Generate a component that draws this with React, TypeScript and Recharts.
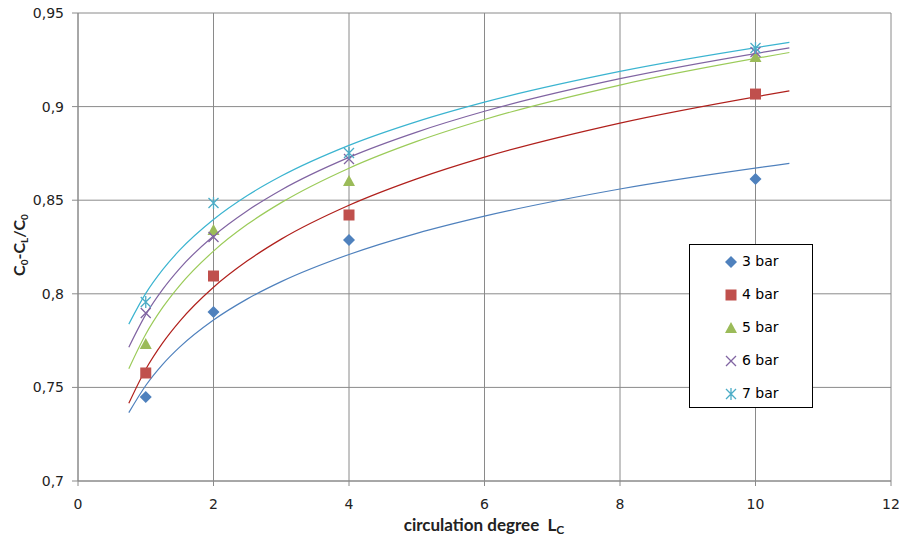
import React from "react"
import { ComposedChart, Line, Scatter, XAxis, YAxis, CartesianGrid } from "recharts"

// measured points (circulation degree Lc vs C0-CL/C0)
const degrees = [1, 2, 4, 10]
const bar3 = [0.7449, 0.7903, 0.8287, 0.8613]
const bar4 = [0.7577, 0.8095, 0.8421, 0.9067]
const bar5 = [0.7732, 0.8341, 0.8603, 0.9265]
const bar6 = [0.7897, 0.8303, 0.872, 0.9292]
const bar7 = [0.7956, 0.8485, 0.8752, 0.9313]

// trend curves
const trendX = [0.75, 1, 1.25, 1.5, 2, 2.5, 3, 4, 5, 6, 8, 10.5]
const trend3 = [0.7365, 0.751, 0.7623, 0.7715, 0.786, 0.7973, 0.8065, 0.821, 0.8323, 0.8415, 0.856, 0.8697]
const trend4 = [0.7415, 0.7597, 0.7738, 0.7853, 0.8035, 0.8176, 0.8292, 0.8473, 0.8614, 0.873, 0.8912, 0.9084]
const trend5 = [0.76, 0.7784, 0.7927, 0.8044, 0.8228, 0.8371, 0.8487, 0.8671, 0.8814, 0.8931, 0.9115, 0.9289]
const trend6 = [0.7715, 0.7889, 0.8024, 0.8135, 0.8309, 0.8444, 0.8555, 0.8729, 0.8864, 0.8975, 0.9149, 0.9314]
const trend7 = [0.7838, 0.8002, 0.8129, 0.8233, 0.8397, 0.8525, 0.8629, 0.8793, 0.892, 0.9024, 0.9188, 0.9343]

const xTicks = [0, 2, 4, 6, 8, 10, 12]
const yTicks = [0.7, 0.75, 0.8, 0.85, 0.9, 0.95]

const FONT = "'DejaVu Sans', Verdana, sans-serif"
const TITLE_FONT = "Lato, 'Open Sans', sans-serif"
const GRID = "#8a8a8a"

const toPoints = (xs: number[], ys: number[]) => ys.map((y, i) => ({ x: xs[i], y }))

type Marker = "diamond" | "square" | "triangle" | "cross" | "star"

function drawMarker(kind: Marker, cx: number, cy: number, color: string) {
  switch (kind) {
    case "diamond":
      return <path d={`M${cx},${cy - 6} L${cx + 6},${cy} L${cx},${cy + 6} L${cx - 6},${cy} Z`} fill={color} />
    case "square":
      return <rect x={cx - 5.5} y={cy - 5.5} width={11} height={11} fill={color} />
    case "triangle":
      return <path d={`M${cx},${cy - 6} L${cx + 6},${cy + 5} L${cx - 6},${cy + 5} Z`} fill={color} />
    case "cross":
      return (
        <path d={`M${cx - 5},${cy - 5} L${cx + 5},${cy + 5} M${cx + 5},${cy - 5} L${cx - 5},${cy + 5}`} stroke={color} strokeWidth={1.3} fill="none" />
      )
    default:
      return (
        <path
          d={`M${cx - 5},${cy - 5} L${cx + 5},${cy + 5} M${cx + 5},${cy - 5} L${cx - 5},${cy + 5} M${cx},${cy - 6} L${cx},${cy + 6}`}
          stroke={color}
          strokeWidth={1.3}
          fill="none"
        />
      )
  }
}

const series = [
  { name: "3 bar", values: bar3, trend: trend3, color: "#4F81BD", line: "#4F81BD", marker: "diamond" as Marker },
  { name: "4 bar", values: bar4, trend: trend4, color: "#C0504D", line: "#B0201C", marker: "square" as Marker },
  { name: "5 bar", values: bar5, trend: trend5, color: "#9BBB59", line: "#9BCB59", marker: "triangle" as Marker },
  { name: "6 bar", values: bar6, trend: trend6, color: "#8064A2", line: "#8064A2", marker: "cross" as Marker },
  { name: "7 bar", values: bar7, trend: trend7, color: "#4BACC6", line: "#3BB4D0", marker: "star" as Marker },
]

function LegendBox() {
  return (
    <div
      style={{
        position: "absolute",
        left: 689,
        top: 244,
        border: "1px solid #000",
        background: "#fff",
        width: 124,
        height: 164,
        boxSizing: "border-box",
        fontFamily: FONT,
        fontSize: 14,
        lineHeight: "15px",
        color: "#000",
      }}
    >
      {series.map((s) => (
        <div key={s.name} style={{ display: "flex", alignItems: "center", height: 33, paddingLeft: 34 }}>
          <svg width={14} height={14} style={{ marginRight: 4 }}>
            {drawMarker(s.marker, 7, 7, s.color)}
          </svg>
          <span>{s.name}</span>
        </div>
      ))}
    </div>
  )
}

export default function App() {
  return (
    <div style={{ position: "absolute", left: 0, top: 0, width: 903, height: 537, background: "#fff" }}>
      <ComposedChart width={903} height={537} margin={{ top: 13, right: 12, left: 18, bottom: 6 }}>
        <CartesianGrid stroke={GRID} strokeWidth={1} />
        <XAxis
          dataKey="x"
          type="number"
          domain={[0, 12]}
          ticks={xTicks}
          allowDataOverflow
          height={50}
          stroke={GRID}
          tickSize={5}
          tickMargin={13}
          tick={{ fill: "#222", fontFamily: FONT, fontSize: 14 }}
          label={{
            content: () => (
              <text x={484} y={531} textAnchor="middle" fontFamily={TITLE_FONT} fontSize={17} fontWeight="bold" fill="#222">
                {"circulation degree\u00A0\u00A0L"}
                <tspan fontSize={12} dy={3}>
                  C
                </tspan>
              </text>
            ),
          }}
        />
        <YAxis
          type="number"
          domain={[0.7, 0.95]}
          ticks={yTicks}
          allowDataOverflow
          width={60}
          stroke={GRID}
          tickSize={6}
          tickMargin={8}
          tick={{ fill: "#222", fontFamily: FONT, fontSize: 14 }}
          tickFormatter={(v: number) => String(v).replace(".", ",")}
          label={{
            content: () => (
              <text
                x={25}
                y={245}
                transform="rotate(-90 25 245)"
                textAnchor="middle"
                fontFamily={TITLE_FONT}
                fontSize={16}
                fontWeight="bold"
                fill="#222"
              >
                C<tspan fontSize={10} dy={3}>0</tspan>
                <tspan dy={-3}>-C</tspan>
                <tspan fontSize={10} dy={3}>L</tspan>
                <tspan dy={-3}>/C</tspan>
                <tspan fontSize={10} dy={3}>0</tspan>
              </text>
            ),
          }}
        />
        {series.map((s) => (
          <Line
            key={`t-${s.name}`}
            data={toPoints(trendX, s.trend)}
            dataKey="y"
            type="monotone"
            stroke={s.line}
            strokeWidth={1.2}
            dot={false}
            activeDot={false}
            legendType="none"
            isAnimationActive={false}
          />
        ))}
        {series.map((s) => (
          <Scatter
            key={s.name}
            name={s.name}
            data={toPoints(degrees, s.values)}
            dataKey="y"
            fill={s.color}
            isAnimationActive={false}
            shape={(p: any) => drawMarker(s.marker, p.cx, p.cy, s.color)}
          />
        ))}
      </ComposedChart>
      <LegendBox />
    </div>
  )
}
